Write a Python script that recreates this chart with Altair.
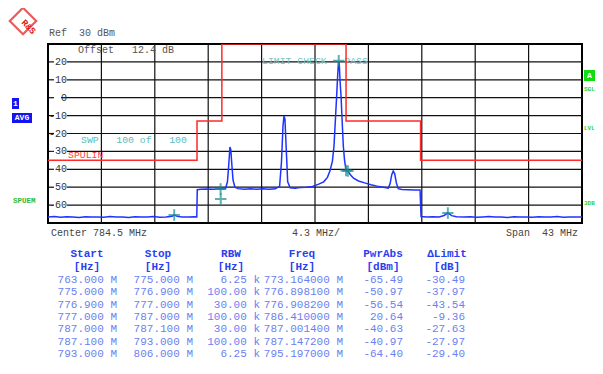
import altair as alt
import pandas as pd

FONT = "Liberation Mono"

# ---------------- data ----------------
trace_freq = [
    763.0, 763.5, 764.0, 764.5, 765.0, 765.5, 766.0, 766.5, 767.0, 767.5,
    768.0, 768.5, 769.0, 769.5, 770.0, 770.5, 771.0, 771.5, 772.0, 772.5,
    773.0, 773.16, 773.4, 773.8, 774.3, 774.8, 774.98,
    775.02, 775.3, 775.8, 776.3, 776.7, 776.9, 777.1, 777.3, 777.45, 777.55,
    777.65, 777.72, 777.8, 777.9, 778.05, 778.3, 778.8, 779.3, 779.8, 780.3,
    780.8, 781.3, 781.65, 781.8, 781.92, 782.0, 782.08, 782.18, 782.3, 782.5,
    782.9, 783.3, 783.8, 784.3, 784.8, 785.2, 785.5, 785.7, 785.9, 786.03,
    786.16, 786.24, 786.3, 786.36, 786.41, 786.46, 786.52, 786.6, 786.68, 786.78,
    786.88, 787.0, 787.15, 787.35, 787.6, 788.0, 788.5, 789.0, 789.5, 790.0,
    790.4, 790.55, 790.68, 790.8, 790.92, 791.05, 791.2, 791.5, 792.0, 792.5,
    792.96, 793.04, 793.5, 794.0, 794.5, 794.9, 795.2, 795.5, 795.9, 796.5,
    797.0, 797.5, 798.0, 798.5, 799.0, 799.5, 800.0, 800.5, 801.0, 801.5,
    802.0, 802.5, 803.0, 803.5, 804.0, 804.5, 805.0, 805.5, 806.0,
]
trace_level = [
    -66.6, -66.4, -66.8, -66.5, -66.7, -66.9, -66.5, -66.7, -66.6, -66.8,
    -66.4, -66.7, -66.6, -66.9, -66.5, -66.7, -66.6, -66.4, -66.8, -66.6,
    -66.2, -65.5, -66.3, -66.6, -66.7, -66.5, -66.6,
    -51.4, -51.2, -51.0, -51.2, -51.0, -50.9, -51.0, -50.6, -47.0, -38.0,
    -27.5, -29.0, -37.0, -46.0, -50.0, -50.8, -51.1, -50.9, -51.2, -50.9,
    -51.1, -50.9, -49.5, -36.0, -16.0, -10.2, -12.0, -28.0, -47.0, -50.3,
    -50.6, -50.2, -50.0, -49.6, -48.3, -47.0, -44.5, -41.0, -35.5, -27.0,
    -10.0, 0.5, 9.0, 16.5, 20.64, 18.0, 9.0, 0.5, -12.0, -27.0,
    -35.0, -40.6, -41.0, -43.0, -45.0, -46.5, -47.6, -48.6, -49.4, -50.0,
    -50.5, -48.0, -43.0, -41.0, -42.5, -47.5, -50.8, -51.3, -51.4, -51.5,
    -51.6, -66.4, -66.7, -66.5, -66.6, -65.8, -64.4, -65.9, -66.5, -66.7,
    -66.5, -66.8, -66.6, -66.4, -66.7, -66.6, -66.9, -66.5, -66.7, -66.6,
    -66.8, -66.5, -66.7, -66.6, -66.4, -66.8, -66.6, -66.7, -66.6,
]

limit_freq = [763.0, 775.0, 776.9, 777.0, 787.0, 787.1, 793.0, 806.0]
limit_level = [-35, -13, -13, 30, -13, -13, -35, -35]

marker_freq = [773.164, 776.8981, 776.9082, 786.41, 787.0014, 787.1472, 795.197]
marker_level = [-65.49, -50.97, -56.54, 20.64, -40.63, -40.97, -64.40]

y_ticks = [20, 10, 0, -10, -20, -30, -40, -50, -60]
x_grid = [767.3, 771.6, 775.9, 780.2, 784.5, 788.8, 793.1, 797.4, 801.7]

tbl_start = ["763.000 M", "775.000 M", "776.900 M", "777.000 M", "787.000 M", "787.100 M", "793.000 M"]
tbl_stop = ["775.000 M", "776.900 M", "777.000 M", "787.000 M", "787.100 M", "793.000 M", "806.000 M"]
tbl_rbw = ["6.25 k", "100.00 k", "30.00 k", "100.00 k", "30.00 k", "100.00 k", "6.25 k"]
tbl_freq = ["773.164000 M", "776.898100 M", "776.908200 M", "786.410000 M",
            "787.001400 M", "787.147200 M", "795.197000 M"]
tbl_pwr = ["-65.49", "-50.97", "-56.54", "20.64", "-40.63", "-40.97", "-64.40"]
tbl_lim = ["-30.49", "-37.97", "-43.54", "-9.36", "-27.63", "-27.97", "-29.40"]
tbl_head = ["Start", "Stop", "RBW", "Freq", "PwrAbs", "\u0394Limit"]
tbl_unit = ["[Hz]", "[Hz]", "[Hz]", "[Hz]", "[dBm]", "[dB]"]

# ---------------- layout helpers ----------------
W, H = 534, 179
OX, OY = 48, 44  # page position of plot origin
NB = "\u00a0"

xs = alt.Scale(domain=[763, 806], nice=False, zero=False)
ys = alt.Scale(domain=[-70, 30], nice=False, zero=False)

one = pd.DataFrame({"k": [0]})


def txt(s, px, py, color="#444444", size=10, align="left", weight="normal", angle=0):
    return alt.Chart(one).mark_text(
        text=s.replace(" ", NB), align=align, baseline="middle", font=FONT, fontSize=size,
        fontWeight=weight, color=color, angle=angle,
    ).encode(x=alt.value(px - OX), y=alt.value(py - OY))


def box(x1, y1, x2, y2, color):
    return alt.Chart(one).mark_rect(color=color).encode(
        x=alt.value(x1 - OX), x2=alt.value(x2 - OX),
        y=alt.value(y1 - OY), y2=alt.value(y2 - OY),
    )


layers = []

# grid
ydf = pd.DataFrame({"lvl": y_ticks, "lbl": [str(v) for v in y_ticks]})
layers.append(alt.Chart(ydf[ydf.lvl != 0]).mark_rule(color="#111111", strokeWidth=1.2).encode(
    y=alt.Y("lvl:Q", scale=ys, axis=None), x=alt.value(19), x2=alt.value(W)))
layers.append(alt.Chart(ydf[ydf.lvl == 0]).mark_rule(color="#111111", strokeWidth=1.2).encode(
    y=alt.Y("lvl:Q", scale=ys, axis=None), x=alt.value(13), x2=alt.value(W)))
layers.append(alt.Chart(ydf).mark_rule(color="#111111", strokeWidth=1.2).encode(
    y=alt.Y("lvl:Q", scale=ys, axis=None), x=alt.value(1), x2=alt.value(6)))
layers.append(alt.Chart(ydf).mark_text(align="right", baseline="middle", font=FONT,
                                       fontSize=10, color="#333333").encode(
    y=alt.Y("lvl:Q", scale=ys, axis=None), x=alt.value(19), text="lbl:N"))
xdf = pd.DataFrame({"f": x_grid})
layers.append(alt.Chart(xdf).mark_rule(color="#111111", strokeWidth=1.2).encode(
    x=alt.X("f:Q", scale=xs, axis=None), y=alt.value(0), y2=alt.value(H)))

# in-plot annotations (under the trace)
layers.append(txt("Offset   12.4 dB", 78, 50, color="#555555"))
layers.append(txt("LIMIT CHECK   PASS", 262, 61, color="#78c4c4", size=9.8))
layers.append(txt("SWP   100 of   100", 81, 140, color="#5cbcbc", size=9.8))
layers.append(txt("SPULIN", 68, 155, color="#ff4040", size=9.8))

# limit line
ldf = pd.DataFrame({"f": limit_freq, "p": limit_level})
layers.append(alt.Chart(ldf).mark_line(interpolate="step-after", color="#ff2a2a",
                                       strokeWidth=1.5, clip=True).encode(
    x=alt.X("f:Q", scale=xs, axis=None), y=alt.Y("p:Q", scale=ys, axis=None)))

# trace
tdf = pd.DataFrame({"f": trace_freq, "p": trace_level})
layers.append(alt.Chart(tdf).mark_line(color="#1f33ff", strokeWidth=1.5, clip=True).encode(
    x=alt.X("f:Q", scale=xs, axis=None), y=alt.Y("p:Q", scale=ys, axis=None)))

# markers
mdf = pd.DataFrame({"f": marker_freq, "p": marker_level})
layers.append(alt.Chart(mdf).mark_point(shape="M-1,0L1,0M0,-1L0,1", size=130, filled=False,
                                        stroke="#169090", strokeWidth=2).encode(
    x=alt.X("f:Q", scale=xs, axis=None), y=alt.Y("p:Q", scale=ys, axis=None)))

# outside texts
layers.append(txt("Ref  30 dBm", 49, 33, color="#555555"))
layers.append(txt("Center 784.5 MHz", 51, 233, color="#444444"))
layers.append(txt("4.3 MHz/", 292, 233, color="#444444"))
layers.append(txt("Span  43 MHz", 578, 233, color="#444444", align="right"))

# logo
layers.append(alt.Chart(one).mark_point(shape="diamond", size=700, filled=False,
                                        stroke="#e01818", strokeWidth=2.2).encode(
    x=alt.value(23 - OX), y=alt.value(21 - OY)))
layers.append(txt("R&S", 23, 21, color="#e01818", size=9, weight="bold", angle=45))

# left side boxes
layers.append(box(12, 98, 19, 109, "#1414f0"))
layers.append(txt("1", 15.5, 103.5, color="white", size=8, align="center", weight="bold"))
layers.append(box(12, 113, 32, 123, "#1414f0"))
layers.append(txt("AVG", 22, 118, color="white", size=8, align="center", weight="bold"))
layers.append(txt("SPUEM", 13, 201, color="#2eb82e", size=7.5, weight="bold"))

# right side (page is only 595 px usable on the right)
layers.append(box(584, 70, 595, 81, "#10dd10"))
layers.append(txt("A", 589.5, 75.5, color="white", size=8, align="center", weight="bold"))
layers.append(txt("SGL", 584, 89, color="#30d030", size=6, weight="bold"))
layers.append(txt("LVL", 584, 128, color="#30d030", size=6, weight="bold"))
layers.append(txt("3DB", 584, 203, color="#30d030", size=6, weight="bold"))

# table
head_x = [87, 158, 231, 302, 383, 447]
col_right = [117, 193, 260, 343, 403, 465]
rows_scale = alt.Scale(domain=[0, 6], range=[280 - OY, 354 - OY], nice=False, zero=False)
for hx, h, u in zip(head_x, tbl_head, tbl_unit):
    layers.append(txt(h, hx, 254, color="#2a3ff0", size=11, align="center", weight="bold"))
    layers.append(txt(u, hx, 267, color="#2a3ff0", size=11, align="center", weight="bold"))
for rx, col in zip(col_right, [tbl_start, tbl_stop, tbl_rbw, tbl_freq, tbl_pwr, tbl_lim]):
    cdf = pd.DataFrame({"row": list(range(len(col))), "t": [c.replace(" ", NB) for c in col]})
    layers.append(alt.Chart(cdf).mark_text(align="right", baseline="middle", font=FONT,
                                           fontSize=11, color="#6b7ff2").encode(
        x=alt.value(rx - OX), y=alt.Y("row:Q", scale=rows_scale, axis=None), text="t:N"))

chart = alt.layer(*layers).resolve_scale(y="independent").properties(
    width=W, height=H,
    autosize=alt.AutoSizeParams(type="none"),
    padding={"left": 40, "top": 36, "right": 13, "bottom": 136},
    background="white",
).configure_view(stroke="black", strokeWidth=2)

chart.save("out.html", embed_options={"renderer": "svg", "actions": False})
